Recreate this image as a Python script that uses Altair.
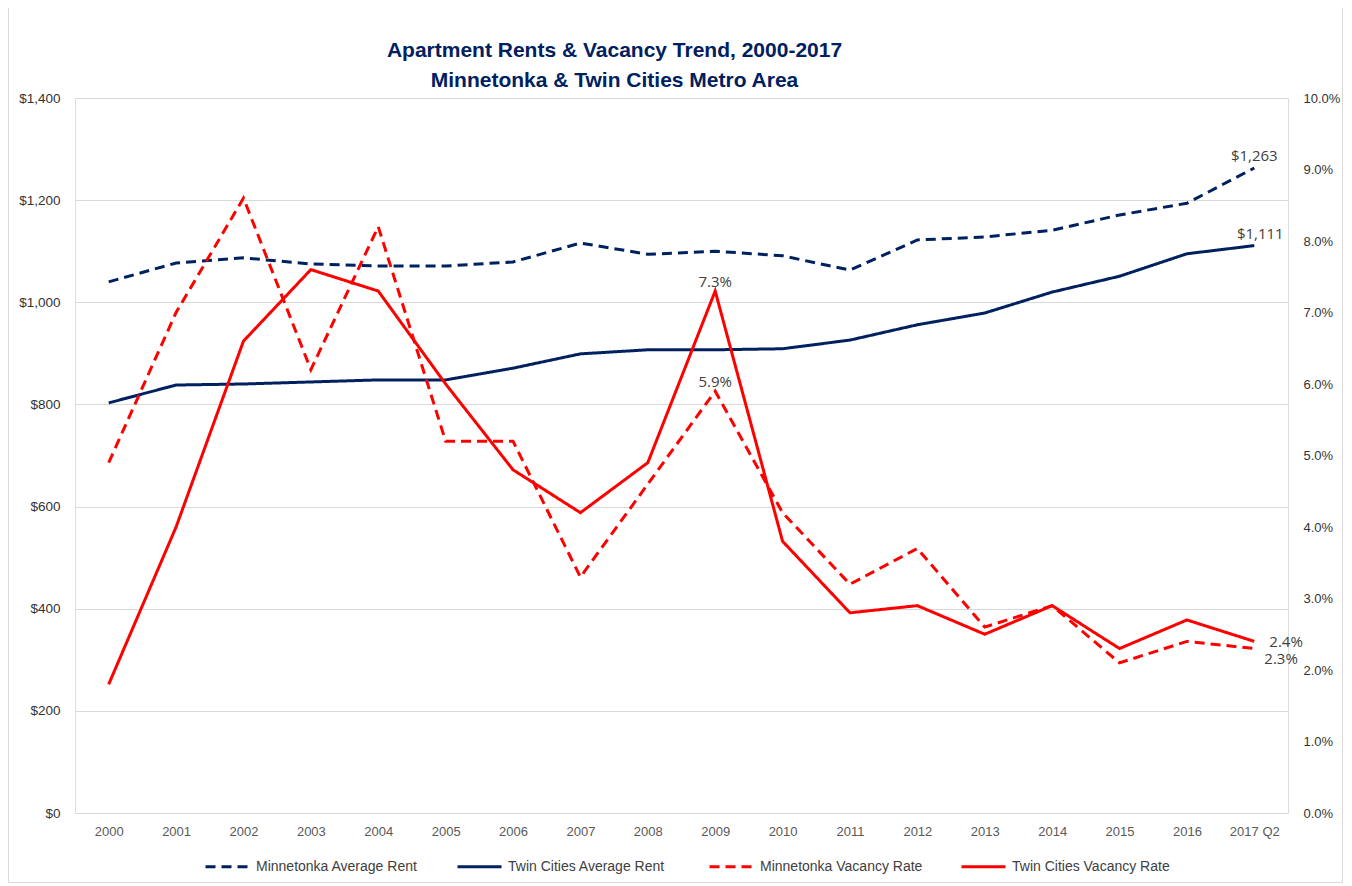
import altair as alt
import pandas as pd

years = ["2000", "2001", "2002", "2003", "2004", "2005", "2006", "2007", "2008",
         "2009", "2010", "2011", "2012", "2013", "2014", "2015", "2016", "2017 Q2"]
mtka_rent = [1040, 1077, 1087, 1075, 1071, 1071, 1079, 1116, 1094, 1100, 1091, 1063,
             1122, 1128, 1141, 1171, 1194, 1263]
tc_rent = [803, 838, 840, 844, 848, 848, 871, 899, 907, 907, 909, 926, 956, 979,
           1020, 1051, 1095, 1111]
mtka_vac = [4.9, 7.0, 8.6, 6.2, 8.2, 5.2, 5.2, 3.3, 4.6, 5.9, 4.2, 3.2, 3.7, 2.6,
            2.9, 2.1, 2.4, 2.3]
tc_vac = [1.8, 4.0, 6.6, 7.6, 7.3, 6.0, 4.8, 4.2, 4.9, 7.3, 3.8, 2.8, 2.9, 2.5,
          2.9, 2.3, 2.7, 2.4]

series = ["Minnetonka Average Rent", "Twin Cities Average Rent",
          "Minnetonka Vacancy Rate", "Twin Cities Vacancy Rate"]
colors = ["#002060", "#002060", "#FF0000", "#FF0000"]
dashes = [[10, 6], [1, 0], [10, 6], [1, 0]]

rent_df = pd.DataFrame(
    [{"year": y, "series": series[0], "value": v} for y, v in zip(years, mtka_rent)]
    + [{"year": y, "series": series[1], "value": v} for y, v in zip(years, tc_rent)]
)
vac_df = pd.DataFrame(
    [{"year": y, "series": series[2], "value": v} for y, v in zip(years, mtka_vac)]
    + [{"year": y, "series": series[3], "value": v} for y, v in zip(years, tc_vac)]
)

FONT = "Liberation Sans"
LABEL_FONT = "Open Sans"

x_enc = alt.X("year:O", sort=years, title=None,
              scale=alt.Scale(padding=0.5),
              axis=alt.Axis(labelAngle=0, domain=False, ticks=False, labelPadding=12,
                            labelFont=FONT, labelFontSize=13, labelColor="#595959",
                            grid=False))

legend_kw = dict(title=None, orient="none", legendX=129, legendY=745,
                 direction="horizontal", columns=4,
                 symbolType="stroke", symbolSize=1936,
                 symbolStrokeWidth=3, labelFont=FONT,
                 labelFontSize=14, labelColor="#404040", labelLimit=400,
                 gridAlign="all", columnPadding=32,
                 labelOffset=5, padding=0)
color_enc = alt.Color("series:N", scale=alt.Scale(domain=series, range=colors),
                      legend=alt.Legend(**legend_kw))
dash_enc = alt.StrokeDash("series:N", scale=alt.Scale(domain=series, range=dashes),
                          legend=alt.Legend(**legend_kw))

rent_y = alt.Y("value:Q", title=None,
               scale=alt.Scale(domain=[0, 1400], nice=False),
               axis=alt.Axis(values=list(range(0, 1401, 200)), format="$,.0f",
                             domain=False, ticks=False, labelPadding=15,
                             labelFont=FONT, labelFontSize=13.5, labelColor="#333333",
                             gridColor="#d9d9d9", gridWidth=1))
vac_y = alt.Y("value:Q", title=None,
              scale=alt.Scale(domain=[0, 10], nice=False),
              axis=alt.Axis(orient="right", values=list(range(0, 11)),
                            labelExpr="format(datum.value, '.1f') + '%'",
                            domain=False, ticks=False, labelPadding=15, grid=False,
                            labelFont=FONT, labelFontSize=13, labelColor="#333333"))

rent_base = alt.Chart(rent_df)
rent_lines = rent_base.mark_line(strokeWidth=3).encode(
    x=x_enc, y=rent_y, color=color_enc, strokeDash=dash_enc, detail="series:N")


def text_layer(base, y_enc, cond, dx, dy, align, fmt):
    return base.transform_filter(cond).transform_calculate(
        lab=fmt).mark_text(align=align, dx=dx, dy=dy, font=LABEL_FONT, fontSize=15,
                           color="#404040").encode(x=x_enc, y=y_enc, text="lab:N")


rent_lab1 = text_layer(rent_base, rent_y,
                       f"datum.year == '2017 Q2' && datum.series == '{series[0]}'",
                       0, -12, "center", "'$' + format(datum.value, ',.0f')")
rent_lab2 = text_layer(rent_base, rent_y,
                       f"datum.year == '2017 Q2' && datum.series == '{series[1]}'",
                       6, -12, "center", "'$' + format(datum.value, ',.0f')")
rent = alt.layer(rent_lines, rent_lab1, rent_lab2)

vac_base = alt.Chart(vac_df)
vac_lines = vac_base.mark_line(strokeWidth=3).encode(
    x=x_enc, y=vac_y, color=color_enc, strokeDash=dash_enc, detail="series:N")
vac_lab_2009 = text_layer(vac_base, vac_y, "datum.year == '2009'",
                          0, -9, "center", "format(datum.value, '.1f') + '%'")
vac_lab_tc = text_layer(vac_base, vac_y,
                        f"datum.year == '2017 Q2' && datum.series == '{series[3]}'",
                        15, 1, "left", "format(datum.value, '.1f') + '%'")
vac_lab_mt = text_layer(vac_base, vac_y,
                        f"datum.year == '2017 Q2' && datum.series == '{series[2]}'",
                        10, 10, "left", "format(datum.value, '.1f') + '%'")
vac = alt.layer(vac_lines, vac_lab_2009, vac_lab_tc, vac_lab_mt)

frame = alt.Chart(pd.DataFrame({"k": [0]})).mark_rect(
    fill=None, stroke="#d9d9d9", strokeWidth=1).encode(
    x=alt.value(-66.5), x2=alt.value(1267.5), y=alt.value(-90.5), y2=alt.value(784.5))

chart = alt.layer(frame, rent, vac).resolve_scale(y="independent").properties(
    width=1213, height=715,
    title=alt.TitleParams(
        ["Apartment Rents & Vacancy Trend, 2000-2017", "Minnetonka & Twin Cities Metro Area"],
        font=FONT, fontSize=21, fontWeight="bold", color="#002060",
        anchor="middle", frame="group", dx=-67, offset=-84, lineHeight=30),
    padding={"left": 67, "top": 90, "right": 55, "bottom": 70},
    autosize=alt.AutoSizeParams(type="none"),
).configure_view(stroke=None).configure(background="white")

chart.save("out.html", embed_options={"renderer": "svg", "actions": False})
